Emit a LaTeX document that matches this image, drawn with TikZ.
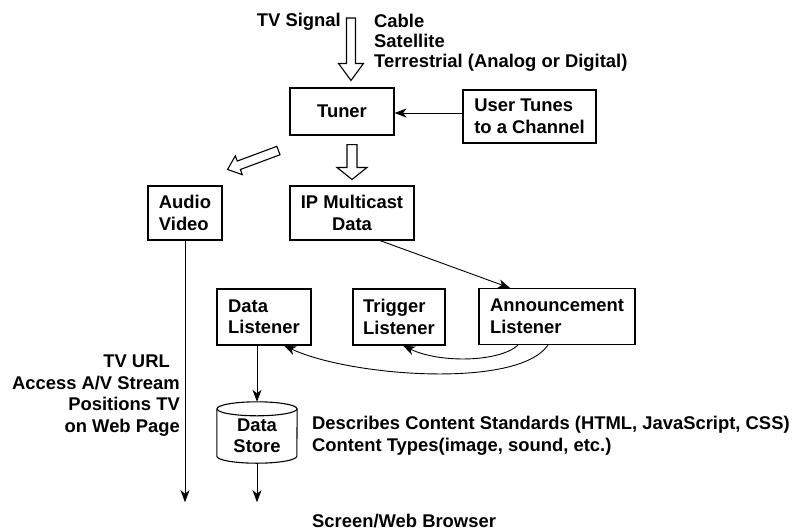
\documentclass[tikz,border=0pt]{standalone}
\usepackage{fontspec}
\setmainfont{Liberation Sans}
\usetikzlibrary{arrows.meta,calc}

\tikzset{
  lbl/.style={font=\fontsize{18.4}{21.5}\selectfont\bfseries, inner sep=0pt},
  box/.style={lbl, draw, line width=1.1pt, align=left},
  arr/.style={line width=0.9pt, -{Stealth[length=12pt,width=9pt,inset=3.5pt]}},
  fat/.style={line width=1.1pt, fill=white, line join=miter},
  drum/.style={line width=1.1pt},
}

% hollow block arrow: tail, tip, half shaft width, half head width, head length
\newcommand\fatarrow[5]{%
  \coordinate (fa-hb) at ($(#2)!#5!(#1)$);
  \draw[fat] ($(#1)!#3!90:(#2)$) -- ($(fa-hb)!#3!-90:(#1)$) -- ($(fa-hb)!#4!-90:(#1)$)
    -- (#2) -- ($(fa-hb)!#4!90:(#1)$) -- ($(fa-hb)!#3!90:(#1)$) -- ($(#1)!#3!-90:(#2)$) -- cycle;}

\begin{document}
\begin{tikzpicture}[x=1pt,y=-1pt]
\fill[white] (0,0) rectangle (797,531);
\useasboundingbox (0,0) rectangle (797,531);

% boxes
\node[box, minimum width=104pt, minimum height=47pt] (tuner) at (342,111.5) {Tuner};
\node[box, minimum width=133pt, minimum height=53pt] (user) at (529.5,116.5) {User Tunes\\to a Channel};
\node[box, minimum width=74pt, minimum height=54pt] (av) at (185,213) {Audio\\Video};
\node[box, align=center, minimum width=124pt, minimum height=54pt] (ip) at (352,213) {IP Multicast\\Data};
\node[box, minimum width=94pt, minimum height=56pt] (dl) at (264,317) {Data\\Listener};
\node[box, minimum width=92pt, minimum height=56pt] (trig) at (399,317) {Trigger\\Listener};
\node[box, minimum width=156pt, minimum height=56pt] (ann) at (557,316.5) {Announcement\\Listener};

% data store drum
\node[minimum width=80pt, minimum height=61pt, inner sep=0pt] (store) at (257,432.5) {};
\draw[drum] ([yshift=-7pt]store.north west) -- ([yshift=7pt]store.south west)
  arc[start angle=180, end angle=360, x radius=40pt, y radius=7pt]
  -- ([yshift=-7pt]store.north east);
\draw[drum] ([yshift=-7pt]store.north) ellipse[x radius=40pt, y radius=7pt];
\node[lbl, align=center] (storetxt) at (257,435.5) {Data\\Store};

% free texts
\node[lbl, anchor=base east] (signal) at (341,26) {TV Signal};
\node[lbl, anchor=north west, align=left, font=\fontsize{18.4}{20}\selectfont\bfseries] (media) at (374,14)
  {Cable\\Satellite\\Terrestrial (Analog or Digital)};
\node[lbl, anchor=north east, align=right] (tvurl) at (180,355)
  {TV URL\hspace*{10pt}\\Access A/V Stream\\Positions TV\hspace*{5pt}\\on Web Page};
\node[lbl, anchor=north west, align=left] (desc) at (312,416)
  {Describes Content Standards (HTML, JavaScript, CSS)\\Content Types(image, sound, etc.)};
\node[lbl, anchor=north west] (screen) at (312,514) {Screen/Web Browser};

% hollow arrows
\coordinate (sigtail) at (351,18);
\coordinate (sigtip) at ([yshift=7pt]sigtail |- tuner.north);
\fatarrow{sigtail}{sigtip}{4.5pt}{12.5pt}{17pt}
\coordinate (iptip) at ([yshift=6pt]ip.north);
\coordinate (iptail) at ([yshift=-9pt]iptip |- tuner.south);
\fatarrow{iptail}{iptip}{5pt}{15pt}{12pt}
\coordinate (avtail) at ($(tuner.south west)+(-11,15)$);
\coordinate (avtip) at ($(av.north east)+(5,-16)$);
\fatarrow{avtail}{avtip}{4.5pt}{10pt}{12pt}

% thin connectors
\coordinate (ua) at ([yshift=3.5pt]user.west);
\draw[arr] (ua) -- (ua -| tuner.east);
\draw[arr] ([xshift=28pt]ip.south) -- ([xshift=-47pt]ann.north);
\draw[arr] ([xshift=-39pt]ann.south) .. controls +(-18,17) and +(37,18) .. ([xshift=4pt]trig.south);
\draw[arr] ([xshift=-9pt]ann.south) .. controls +(-30,44) and +(66,31) .. ([xshift=20pt]dl.south);
\draw[arr] (store.north |- dl.south) -- (store.north);
\coordinate (storeout) at ([yshift=-39pt]store.south);
\draw[arr] (store.south) -- (storeout);
\draw[arr] (av.south) -- (av.south |- storeout);
\end{tikzpicture}
\end{document}
